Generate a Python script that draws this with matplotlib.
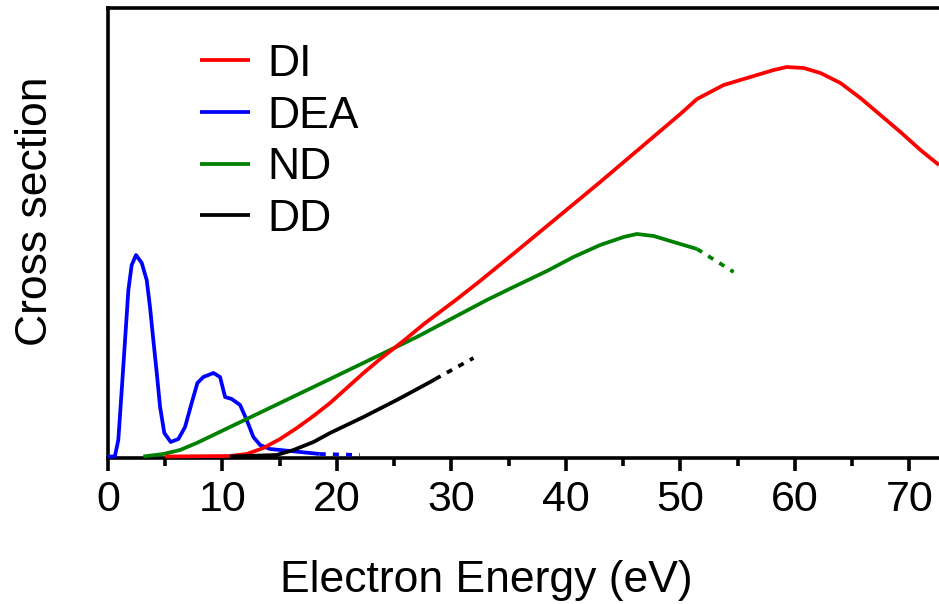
import numpy as np
import matplotlib
matplotlib.use("Agg")
import matplotlib.pyplot as plt
from matplotlib.ticker import MultipleLocator

plt.rcParams['font.family'] = ['Liberation Sans', 'DejaVu Sans']

# ---- data (arbitrary cross-section units) ----
di_x = [5.0, 10.66, 12.12, 13.58, 15.03, 16.5, 17.95, 19.4, 20.86, 22.32, 23.78, 25.8,
        27.6, 30.5, 32.5, 35.5, 39.2, 43.0, 46.5, 48.25, 50.0, 51.46, 53.79, 56.12,
        58.16, 59.3, 60.78, 62.24, 63.99, 65.73, 67.48, 69.23, 70.98, 72.6]
di_y = [1.5, 2, 4, 10, 19, 30, 42, 55, 70, 85, 99, 117,
        134, 159, 177, 205, 240, 276, 310, 327, 344, 359, 373, 381,
        388, 391, 390, 385, 375, 360, 343, 326, 308, 293]

dea_x = [0.0, 0.6, 0.9, 1.2, 1.49, 1.78, 2.07, 2.45, 2.95, 3.38, 3.67, 3.96, 4.26,
         4.55, 4.92, 5.48, 6.15, 6.73, 7.31, 7.81, 8.33, 9.21, 9.79, 10.23, 10.81,
         11.54, 12.12, 12.70, 13.29, 14.16, 15.9, 17.66, 18.5]
dea_y = [1.5, 1.5, 18, 68, 118, 168, 193, 203, 195, 178, 151, 118, 85,
         51, 25, 16, 19, 31, 55, 75, 81, 85, 81, 61, 59,
         53, 38, 21, 13, 9, 7, 5, 4]
dea_tail_x = [18.5, 22.0]
dea_tail_y = [4, 3]

nd_x = [3.09, 4.84, 6.29, 7.75, 9.21, 10.66, 13.58, 16.49, 19.4, 22.3, 26.98, 33.1,
        35.43, 38.35, 40.67, 43.0, 45.05, 46.2, 47.67, 49.7, 51.46]
nd_y = [1.5, 4, 8, 15, 23, 31, 47, 63, 79, 95, 121, 158,
        171, 187, 201, 213, 221, 224, 222, 215, 209]
nd_tail_x = [51.46, 54.66]
nd_tail_y = [209, 186]

dd_x = [10.66, 14.74, 16.2, 17.95, 19.4, 22.32, 25.23, 28.15, 28.6]
dd_y = [1.5, 3, 8, 16, 25, 41, 58, 76, 79]
dd_tail_x = [28.6, 31.93]
dd_tail_y = [79, 100]

labels = ['DI', 'DEA', 'ND', 'DD']
colors = ['#ff0000', '#0000ff', '#008000', '#000000']
xticks = [0, 10, 20, 30, 40, 50, 60, 70]

W, H = 939, 604
fig = plt.figure(figsize=(W / 100, H / 100), dpi=100)
ax = fig.add_axes([108 / W, (H - 458) / H, (W - 108) / W, (458 - 8) / H])

lw = 2.7
dots = (0, (1.6, 1.9))
kw = dict(lw=lw, solid_capstyle='butt', clip_on=False, zorder=3)
h_dea, = ax.plot(dea_x, dea_y, color=colors[1], **kw)
ax.plot(dea_tail_x, dea_tail_y, color=colors[1], ls=dots, **kw)
h_nd, = ax.plot(nd_x, nd_y, color=colors[2], **kw)
ax.plot(nd_tail_x, nd_tail_y, color=colors[2], ls=dots, **kw)
h_di, = ax.plot(di_x, di_y, color=colors[0], **kw)
h_dd, = ax.plot(dd_x, dd_y, color=colors[3], **kw)
ax.plot(dd_tail_x, dd_tail_y, color=colors[3], ls=dots, **kw)

ax.set_xlim(0, 72.6)
ax.set_ylim(0, 450)
ax.spines['right'].set_visible(False)
for s in ['left', 'bottom', 'top']:
    ax.spines[s].set_linewidth(2.6)
ax.set_yticks([])
ax.set_xticks(xticks)
ax.set_xticklabels([str(t) for t in xticks])
ax.xaxis.set_minor_locator(MultipleLocator(5))
ax.tick_params(axis='x', which='major', length=9, width=2.6, direction='out',
               labelsize=31, pad=7)
ax.tick_params(axis='x', which='minor', length=6, width=2.6, direction='out')
ax.tick_params(axis='x', top=False, which='both')

fig.text(486 / W, (H - 592) / H, 'Electron Energy (eV)', fontsize=32,
         ha='center', va='baseline')
fig.text(36 / W, (H - 211) / H, 'Cross section', fontsize=32, rotation=90,
         ha='center', va='center')

leg = ax.legend([h_di, h_dea, h_nd, h_dd], labels, loc='upper left',
                bbox_to_anchor=(92 / 831, 1 - 36 / 450),
                frameon=False, fontsize=32, handlelength=1.13, handletextpad=0.38,
                labelspacing=0.24, borderaxespad=0, borderpad=0)
for line in leg.get_lines():
    line.set_linewidth(lw)

fig.savefig('out.png', dpi=100)
